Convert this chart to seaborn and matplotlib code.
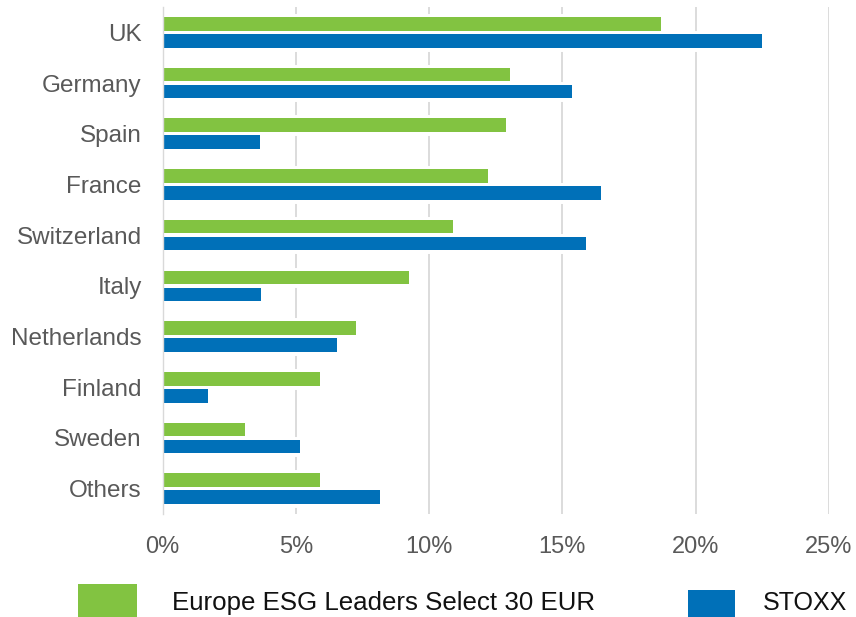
import numpy as np
import pandas as pd
import matplotlib
matplotlib.use("Agg")
import matplotlib.pyplot as plt
import matplotlib.patheffects as pe
from matplotlib.patches import Rectangle
from matplotlib.ticker import FuncFormatter
import seaborn as sns

# Country weights (%) of the ESG leaders index versus the broad STOXX benchmark
countries = ["UK", "Germany", "Spain", "France", "Switzerland",
             "Italy", "Netherlands", "Finland", "Sweden", "Others"]
esg_weights = [18.7, 13.05, 12.9, 12.2, 10.9, 9.25, 7.25, 5.9, 3.1, 5.9]
stoxx_weights = [22.5, 15.35, 3.65, 16.45, 15.9, 3.7, 6.55, 1.7, 5.15, 8.15]
series_names = ["Europe ESG Leaders Select 30 EUR", "STOXX"]
x_ticks = [0, 5, 10, 15, 20, 25]

GREEN = "#82C341"
BLUE = "#0070B8"
GRID = "#D9D9D9"
LABEL = "#595959"

sns.set_style("white")
plt.rcParams["font.family"] = ["Liberation Sans", "DejaVu Sans"]

df = pd.DataFrame({
    "country": countries * 2,
    "weight": esg_weights + stoxx_weights,
    "series": [series_names[0]] * len(countries) + [series_names[1]] * len(countries),
})

W, H = 856, 617
fig = plt.figure(figsize=(W / 100, H / 100), dpi=100)
ax = fig.add_axes([162.5 / W, 1 - 514 / H, (829 - 162.5) / W, (514 - 7) / H])

sns.barplot(data=df, y="country", x="weight", hue="series", orient="h",
            order=countries, hue_order=series_names,
            palette=[GREEN, BLUE], saturation=1, width=0.67, gap=0.2,
            legend=False, errorbar=None, ax=ax)

# white halo around each bar so the gridlines stop short of it
for bar in ax.patches:
    bar.set_edgecolor("none")
    bar.set_path_effects([pe.Stroke(linewidth=5.0, foreground="white"), pe.Normal()])

ax.set_xlim(0, 25)
ax.set_ylim(len(countries) - 0.5, -0.5)
ax.set_xticks(x_ticks)
ax.xaxis.set_major_formatter(FuncFormatter(lambda v, _: f"{v:.0f}%"))
ax.set_yticks(np.arange(-0.5, len(countries), 1), minor=True)

ax.set_axisbelow(True)
ax.grid(axis="x", color=GRID, linewidth=1.3)
ax.grid(axis="y", visible=False)
for side in ("top", "right", "bottom"):
    ax.spines[side].set_visible(False)
ax.spines["left"].set_color(GRID)
ax.spines["left"].set_linewidth(1.0)
ax.spines["left"].set_zorder(5)

ax.tick_params(axis="y", which="major", length=0, pad=15, labelsize=17.5, labelcolor=LABEL)
ax.tick_params(axis="y", which="minor", length=6, width=1.0, color=GRID)
ax.tick_params(axis="x", which="both", length=0, pad=16, labelsize=17, labelcolor=LABEL)
ax.set_xlabel("")
ax.set_ylabel("")

# legend row along the bottom edge
fig.add_artist(Rectangle((78 / W, -3 / H), 59 / W, 36 / H, transform=fig.transFigure,
                         facecolor=GREEN, edgecolor="none"))
fig.text(172.5 / W, 1 - 610 / H, series_names[0], fontsize=18.6, color="#111111",
         ha="left", va="baseline")
fig.add_artist(Rectangle((688 / W, -3 / H), 47 / W, 30 / H, transform=fig.transFigure,
                         facecolor=BLUE, edgecolor="none"))
fig.text(762.5 / W, 1 - 609.5 / H, series_names[1], fontsize=18, color="#111111",
         ha="left", va="baseline")

fig.savefig("out.png", dpi=100, facecolor="white")
